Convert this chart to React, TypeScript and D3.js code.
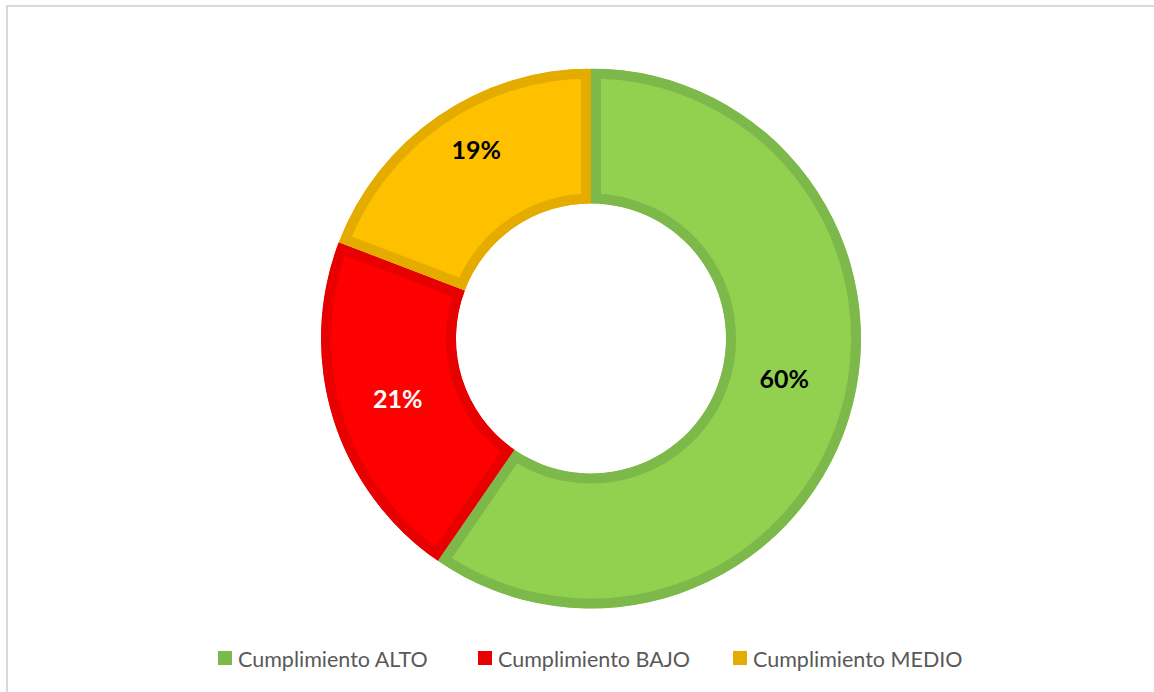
import React, { useRef, useEffect } from "react";
import * as d3 from "d3";

const categories = ["Cumplimiento ALTO", "Cumplimiento BAJO", "Cumplimiento MEDIO"];
const values = [59.6, 21.2, 19.2];
const fills = ["#92D050", "#FF0000", "#FFC000"];
const borders = ["#7DB94A", "#E60000", "#E5AC00"];
const labelColors = ["#000000", "#FFFFFF", "#000000"];

export default function App() {
  const svgRef = useRef<SVGSVGElement>(null);

  useEffect(() => {
    const width = 1154;
    const height = 692;
    const cx = 591;
    const cy = 338.5;
    const outer = 270;
    const inner = 135;

    const svg = d3.select(svgRef.current)
      .attr("width", width)
      .attr("height", height)
      .attr("viewBox", [0, 0, width, height]);

    svg.selectAll("*").remove();

    // chart frame
    svg.append("rect")
      .attr("x", 7).attr("y", 6)
      .attr("width", width + 20).attr("height", height + 20)
      .attr("fill", "#fff")
      .attr("stroke", "#D9D9D9")
      .attr("stroke-width", 2);

    const data = categories.map((c, i) => ({ name: c, value: values[i], i }));

    const pie = d3.pie<any>().value(d => d.value).sort(null);
    const arc = d3.arc<any>().innerRadius(inner).outerRadius(outer);
    const arcs = pie(data);

    const g = svg.append("g").attr("transform", `translate(${cx},${cy})`);

    const defs = svg.append("defs");
    arcs.forEach((a, i) => {
      defs.append("clipPath").attr("id", `clip-${i}`)
        .append("path").attr("d", arc(a) as string);
    });

    // slices, border drawn inside each slice
    g.selectAll("path.slice")
      .data(arcs)
      .join("path")
        .attr("class", "slice")
        .attr("d", d => arc(d) as string)
        .attr("fill", d => fills[d.data.i])
        .attr("stroke", d => borders[d.data.i])
        .attr("stroke-width", 20)
        .attr("stroke-linejoin", "miter")
        .attr("clip-path", d => `url(#clip-${d.data.i})`);

    // labels (small vertical nudge like Excel's best-fit placement)
    const nudge = [-20, 0, -22];
    g.selectAll("text.lbl")
      .data(arcs)
      .join("text")
        .attr("class", "lbl")
        .attr("transform", d => {
          const [x, y] = arc.centroid(d);
          return `translate(${x},${y + nudge[d.data.i]})`;
        })
        .attr("text-anchor", "middle")
        .attr("dy", "0.36em")
        .attr("font-family", "Lato, sans-serif")
        .attr("font-weight", "bold")
        .attr("font-size", 25)
        .attr("fill", d => labelColors[d.data.i])
        .text(d => `${Math.round(d.data.value)}%`);

    // legend
    const legendX = [218, 478, 733];
    const legend = svg.append("g");
    data.forEach((d, i) => {
      legend.append("rect")
        .attr("x", legendX[i]).attr("y", 651)
        .attr("width", 14).attr("height", 14)
        .attr("fill", borders[i]);
      legend.append("text")
        .attr("x", legendX[i] + 20).attr("y", 667)
        .attr("font-family", "Lato, sans-serif")
        .attr("font-size", 21.5)
        .attr("fill", "#595959")
        .text(d.name);
    });
  }, []);

  return (
    <svg
      ref={svgRef}
      style={{ position: "absolute", left: 0, top: 0, display: "block" }}
    ></svg>
  );
}
